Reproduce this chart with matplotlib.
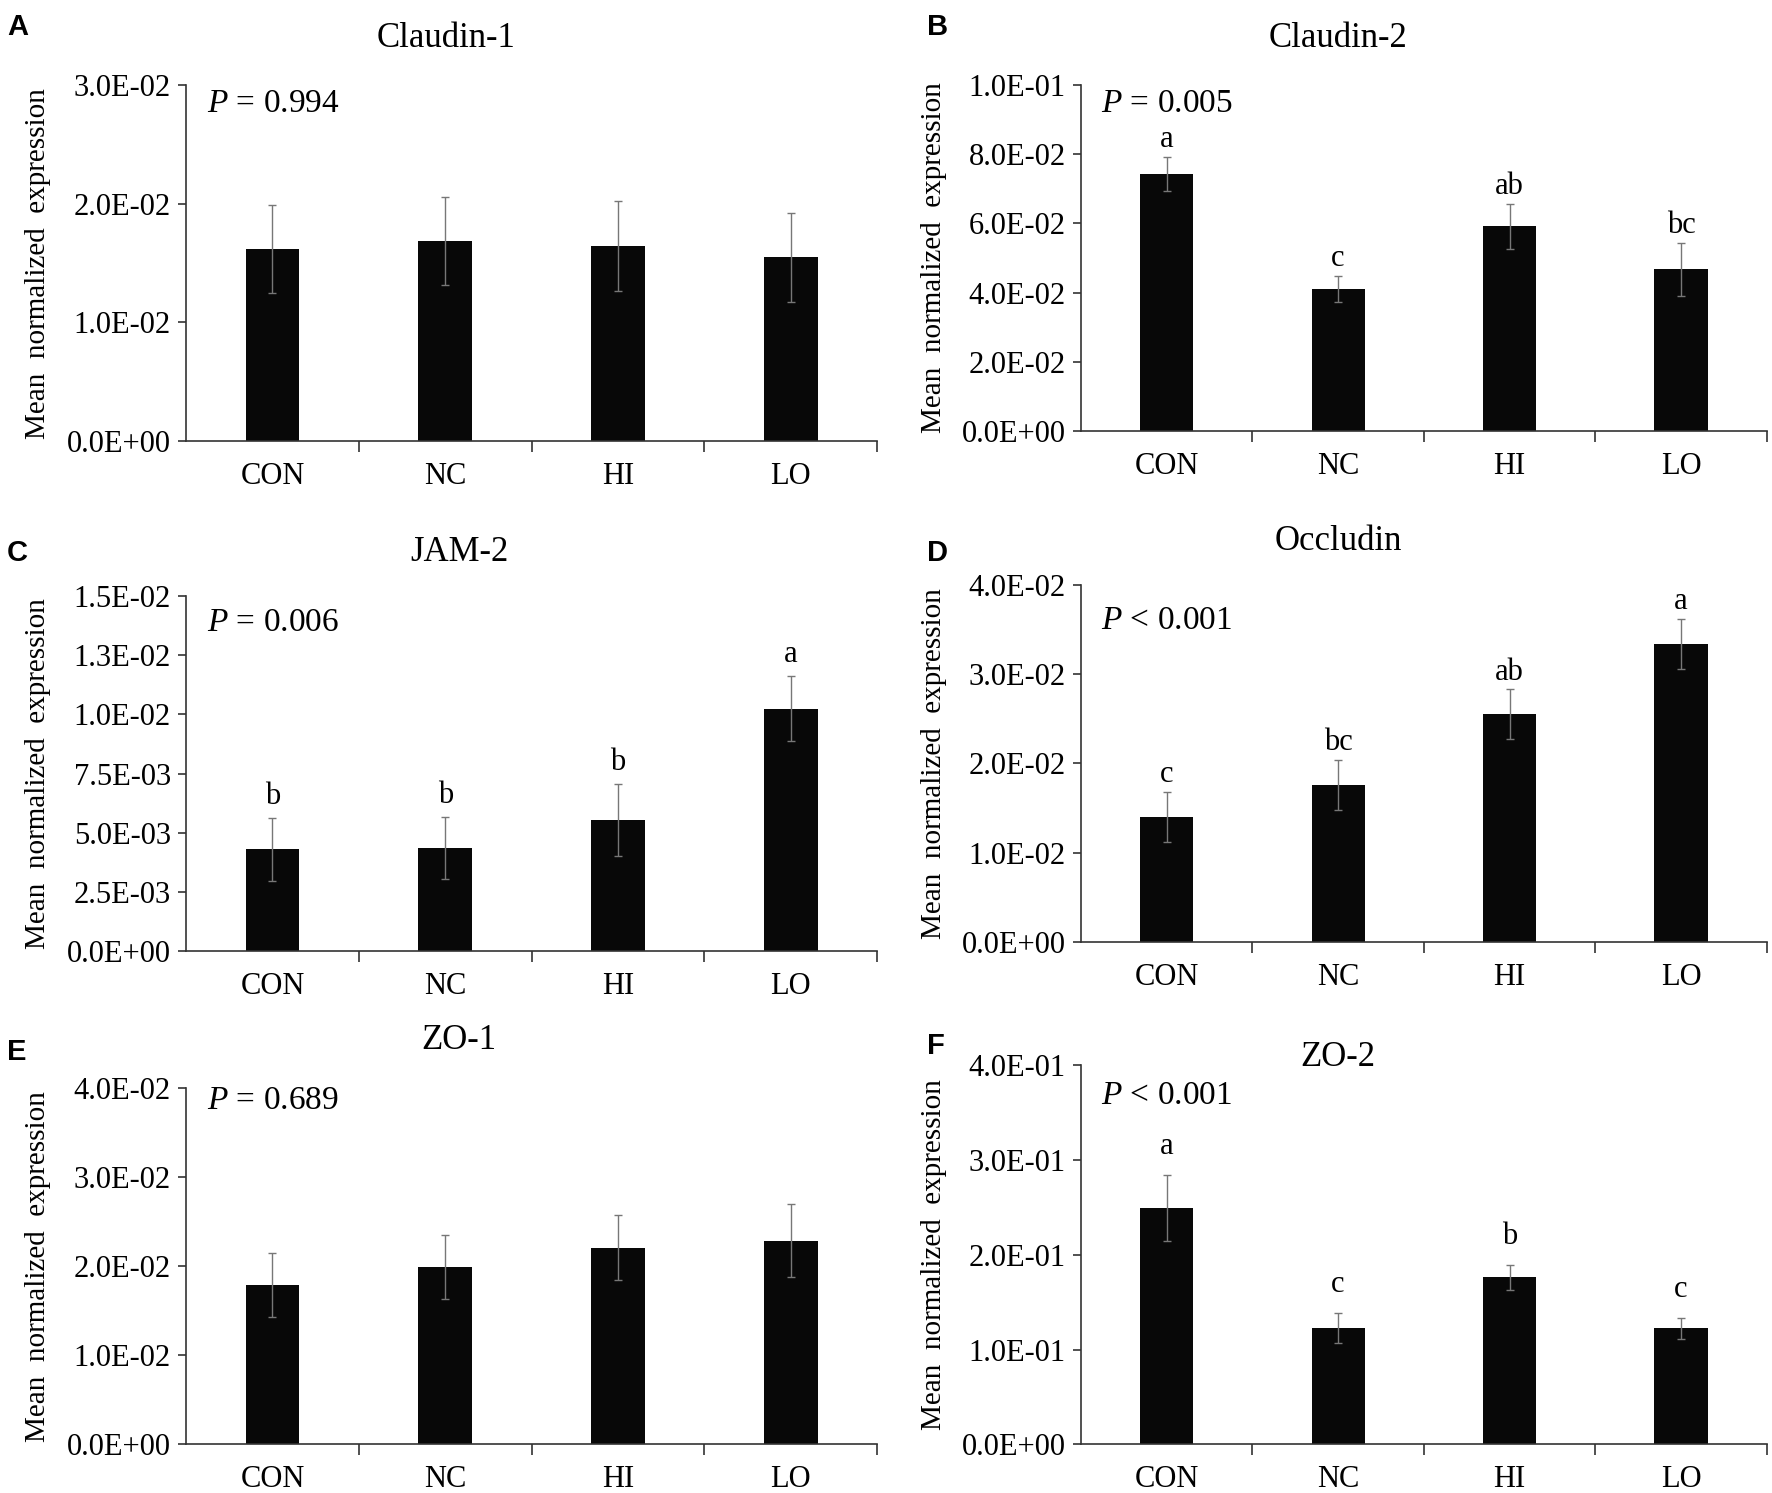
"""Tight-junction gene expression, six small bar panels (A-F)."""
import matplotlib

matplotlib.use("Agg")
import matplotlib.pyplot as plt
import numpy as np

plt.rcParams["font.family"] = ["Liberation Serif", "DejaVu Serif"]
plt.rcParams["mathtext.fontset"] = "custom"
plt.rcParams["mathtext.rm"] = "Liberation Serif"
plt.rcParams["mathtext.it"] = "Liberation Serif:italic"

groups = ["CON", "NC", "HI", "LO"]

genes = ["Claudin-1", "Claudin-2", "JAM-2", "Occludin", "ZO-1", "ZO-2"]
panel_letters = ["A", "B", "C", "D", "E", "F"]

claudin1_mean = [1.62e-2, 1.69e-2, 1.645e-2, 1.55e-2]
claudin1_err = [0.37e-2, 0.37e-2, 0.38e-2, 0.375e-2]
claudin2_mean = [0.0744, 0.0411, 0.0592, 0.0467]
claudin2_err = [0.0049, 0.0037, 0.0065, 0.0077]
jam2_mean = [4.30e-3, 4.35e-3, 5.54e-3, 10.24e-3]
jam2_err = [1.34e-3, 1.32e-3, 1.53e-3, 1.38e-3]
occludin_mean = [1.398e-2, 1.757e-2, 2.553e-2, 3.335e-2]
occludin_err = [0.28e-2, 0.28e-2, 0.275e-2, 0.28e-2]
zo1_mean = [1.787e-2, 1.989e-2, 2.21e-2, 2.288e-2]
zo1_err = [0.36e-2, 0.36e-2, 0.36e-2, 0.41e-2]
zo2_mean = [0.2495, 0.1226, 0.1762, 0.1226]
zo2_err = [0.035, 0.016, 0.0134, 0.011]

means = [claudin1_mean, claudin2_mean, jam2_mean, occludin_mean, zo1_mean, zo2_mean]
errs = [claudin1_err, claudin2_err, jam2_err, occludin_err, zo1_err, zo2_err]

p_texts = ["= 0.994", "= 0.005", "= 0.006", "< 0.001", "= 0.689", "< 0.001"]
sig_letters = [
    None,
    ["a", "c", "ab", "bc"],
    ["b", "b", "b", "a"],
    ["c", "bc", "ab", "a"],
    None,
    ["a", "c", "b", "c"],
]
y_max = [0.03, 0.10, 0.015, 0.04, 0.04, 0.40]
y_step = [0.01, 0.02, 0.0025, 0.01, 0.01, 0.10]

# layout (figure fractions)
axes_rects = [
    (0.105, 0.7045, 0.39, 0.2385),
    (0.610, 0.7114, 0.387, 0.2316),
    (0.105, 0.3629, 0.39, 0.2379),
    (0.610, 0.3690, 0.387, 0.2393),
    (0.105, 0.0326, 0.39, 0.2386),
    (0.610, 0.0326, 0.387, 0.2538),
]
title_pos = [(0.252, 0.974), (0.755, 0.974), (0.259, 0.630),
             (0.755, 0.637), (0.259, 0.303), (0.755, 0.292)]
letter_pos = [(0.004, 0.991), (0.523, 0.991), (0.004, 0.639),
              (0.523, 0.639), (0.004, 0.305), (0.523, 0.309)]
p_ypos = [0.947, 0.945, 0.925, 0.899, 0.964, 0.919]
sig_offset = [9, 7, 10, 7, 9, 15]

FS = 22

fig = plt.figure(figsize=(17.72, 14.93), dpi=100)

for i in range(6):
    ax = fig.add_axes(axes_rects[i])
    x = np.arange(len(groups))
    ax.bar(x, means[i], width=0.31, color="#080808", zorder=2)
    ax.errorbar(x, means[i], yerr=errs[i], fmt="none", ecolor="#777777",
                elinewidth=1.0, capsize=3, capthick=1.0, zorder=3)

    ax.set_xlim(-0.5, 3.5)
    ax.set_ylim(0, y_max[i])
    ticks = np.arange(0, y_max[i] + y_step[i] / 2, y_step[i])
    ax.set_yticks(ticks)
    ax.set_yticklabels(["{:.1E}".format(t) for t in ticks])

    # group names at bar centres, tick marks between groups
    ax.set_xticks([0.5, 1.5, 2.5, 3.5])
    ax.set_xticklabels([])
    ax.set_xticks(x, minor=True)
    ax.set_xticklabels(groups, minor=True)
    ax.tick_params(axis="x", which="major", direction="out", length=8,
                   width=1.2, color="#333333")
    ax.tick_params(axis="x", which="minor", length=0, pad=15, labelsize=FS)
    ax.tick_params(axis="y", direction="out", length=6, width=1.2,
                   color="#333333", pad=5, labelsize=FS)

    for side in ("top", "right"):
        ax.spines[side].set_visible(False)
    for side in ("left", "bottom"):
        ax.spines[side].set_color("#333333")
        ax.spines[side].set_linewidth(1.2)

    ax.set_ylabel("Mean  normalized  expression", fontsize=FS - 1)
    ax.yaxis.set_label_coords(-0.196, 0.5)

    ax.text(0.03, p_ypos[i], r"$P$ " + p_texts[i], transform=ax.transAxes,
            fontsize=FS + 2, va="center", ha="left")

    if sig_letters[i] is not None:
        for xi, m, e, s in zip(x, means[i], errs[i], sig_letters[i]):
            ax.annotate(s, (xi, m + e), xytext=(0, sig_offset[i]),
                        textcoords="offset points", ha="center",
                        va="baseline", fontsize=FS)

    fig.text(title_pos[i][0], title_pos[i][1], genes[i], fontsize=FS + 3,
             ha="center", va="center")
    fig.text(letter_pos[i][0], letter_pos[i][1], panel_letters[i],
             fontsize=FS - 1, fontweight="bold", family="Liberation Sans",
             ha="left", va="top")

fig.savefig("out.png", dpi=100)
